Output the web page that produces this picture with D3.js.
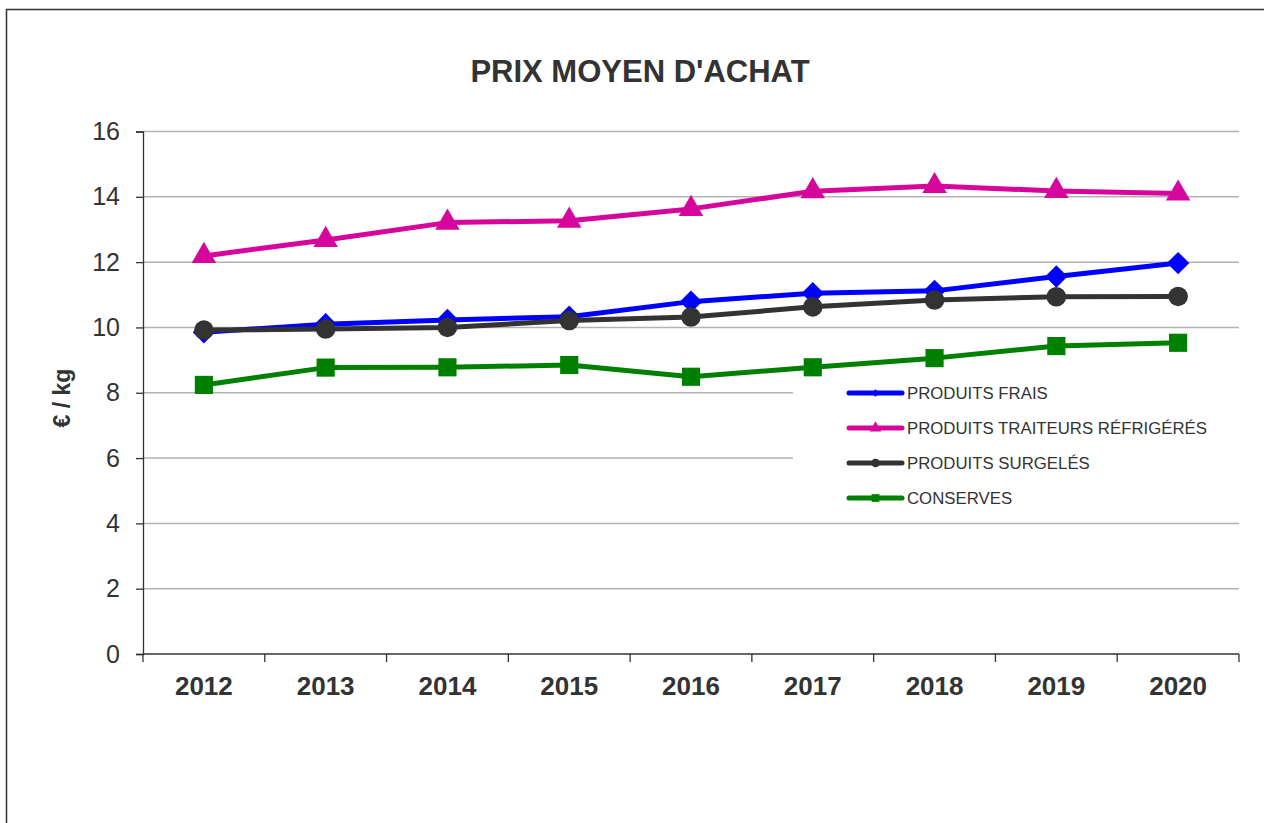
<!DOCTYPE html>
<html>
<head>
<meta charset="utf-8">
<script src="https://cdn.jsdelivr.net/npm/d3@7"></script>
<style>
  body { margin: 0; background: #fff; }
  text { font-family: "Liberation Sans", Arial, sans-serif; fill: #333; }
</style>
</head>
<body>
<div id="chart"></div>
<script>
// les données
var annees = ["2012", "2013", "2014", "2015", "2016", "2017", "2018", "2019", "2020"];
var series = ["PRODUITS FRAIS", "PRODUITS TRAITEURS RÉFRIGÉRÉS", "PRODUITS SURGELÉS", "CONSERVES"];
var frais     = [9.85, 10.10, 10.23, 10.33, 10.79, 11.05, 11.12, 11.56, 11.97];
var traiteurs = [12.19, 12.68, 13.21, 13.27, 13.63, 14.17, 14.33, 14.18, 14.10];
var surgeles  = [9.92, 9.95, 10.00, 10.21, 10.32, 10.63, 10.84, 10.94, 10.95];
var conserves = [8.24, 8.77, 8.78, 8.85, 8.49, 8.78, 9.06, 9.43, 9.53];
var yTicks = [0, 2, 4, 6, 8, 10, 12, 14, 16];

var couleurs = ["#0000ff", "#d6069c", "#333333", "#008000"];
// le losange = un carré tourné de 45°
var symboles = [d3.symbolSquare, d3.symbolTriangle, d3.symbolCircle, d3.symbolSquare];
var rotations = [45, 0, 0, 0];
var tailles = [250, 260, 300, 330];
var valeurs = [frais, traiteurs, surgeles, conserves];

var width = 1264, height = 823;
var svg = d3.select("#chart").append("svg")
    .attr("width", width)
    .attr("height", height);

// cadre autour du graphique
svg.append("rect")
    .attr("x", 6.5).attr("y", 9.5)
    .attr("width", 1300).attr("height", 900)
    .attr("fill", "none")
    .attr("stroke", "#333")
    .attr("stroke-width", 1.5);

var x = d3.scaleBand().domain(annees).range([143, 1239]);
var y = d3.scaleLinear().domain([0, 16]).range([654, 131.5]);

// titre
svg.append("text")
    .attr("x", 640).attr("y", 82)
    .attr("text-anchor", "middle")
    .style("font-size", "31px")
    .style("font-weight", "bold")
    .text("PRIX MOYEN D'ACHAT");

// grille horizontale
svg.append("g")
    .selectAll("line")
    .data(yTicks.filter(function (d) { return d > 0; }))
    .join("line")
    .attr("x1", 143).attr("x2", 1239)
    .attr("y1", function (d) { return y(d); })
    .attr("y2", function (d) { return y(d); })
    .attr("stroke", "#b3b3b3")
    .attr("stroke-width", 1.5);

// axe y
var yAxis = svg.append("g")
    .attr("transform", "translate(143,0)")
    .call(d3.axisLeft(y).tickValues(yTicks).tickSize(7).tickPadding(16));
yAxis.select(".domain").attr("stroke", "#333").attr("stroke-width", 1.3);
yAxis.selectAll(".tick line").attr("stroke", "#333").attr("stroke-width", 1.3);
yAxis.selectAll("text")
    .style("font-size", "25px")
    .attr("fill", "#333")
    .attr("font-family", null);

// axe x : les graduations sont entre les catégories
var xAxis = svg.append("g")
    .attr("transform", "translate(0,654)");
xAxis.append("line")
    .attr("x1", 143).attr("x2", 1239)
    .attr("stroke", "#333").attr("stroke-width", 1.5);
xAxis.selectAll(".tk")
    .data(d3.range(annees.length + 1))
    .join("line")
    .attr("class", "tk")
    .attr("x1", function (i) { return 143 + i * x.step(); })
    .attr("x2", function (i) { return 143 + i * x.step(); })
    .attr("y1", 0).attr("y2", 8)
    .attr("stroke", "#333").attr("stroke-width", 1.3);
xAxis.selectAll(".lbl")
    .data(annees)
    .join("text")
    .attr("class", "lbl")
    .attr("x", function (d) { return x(d) + x.bandwidth() / 2; })
    .attr("y", 41)
    .attr("text-anchor", "middle")
    .style("font-size", "26px")
    .style("font-weight", "bold")
    .text(function (d) { return d; });

// titre de l'axe y
svg.append("text")
    .attr("transform", "translate(70,398) rotate(-90)")
    .attr("text-anchor", "middle")
    .style("font-size", "23px")
    .style("font-weight", "bold")
    .text("€ / kg");

// fond blanc de la légende (par-dessus la grille)
svg.append("rect")
    .attr("x", 793).attr("y", 376)
    .attr("width", 446).attr("height", 136)
    .attr("fill", "#fff");

var line = d3.line()
    .x(function (d, i) { return x(annees[i]) + x.bandwidth() / 2; })
    .y(function (d) { return y(d); });

// on dessine les séries dans l'ordre : frais, traiteurs, surgelés, conserves
valeurs.forEach(function (vals, s) {
    var gs = svg.append("g");
    gs.append("path")
        .datum(vals)
        .attr("d", line)
        .attr("fill", "none")
        .attr("stroke", couleurs[s])
        .attr("stroke-width", 5)
        .attr("stroke-linejoin", "round");
    gs.selectAll("path.m")
        .data(vals)
        .join("path")
        .attr("class", "m")
        .attr("transform", function (d, i) {
            return "translate(" + (x(annees[i]) + x.bandwidth() / 2) + "," + y(d) + ") rotate(" + rotations[s] + ")";
        })
        .attr("d", d3.symbol().type(symboles[s]).size(tailles[s]))
        .attr("fill", couleurs[s]);
});

// légende
var legende = svg.append("g");
series.forEach(function (nom, s) {
    var ly = 393 + s * 35;
    legende.append("line")
        .attr("x1", 849).attr("x2", 902)
        .attr("y1", ly).attr("y2", ly)
        .attr("stroke", couleurs[s])
        .attr("stroke-width", 5)
        .attr("stroke-linecap", "round");
    legende.append("path")
        .attr("transform", "translate(875.5," + ly + ") rotate(" + rotations[s] + ")")
        .attr("d", d3.symbol().type(symboles[s]).size(s === 0 ? 30 : 60))
        .attr("fill", couleurs[s]);
    legende.append("text")
        .attr("x", 907).attr("y", ly + 6)
        .style("font-size", "16.8px")
        .text(nom);
});
</script>
</body>
</html>
